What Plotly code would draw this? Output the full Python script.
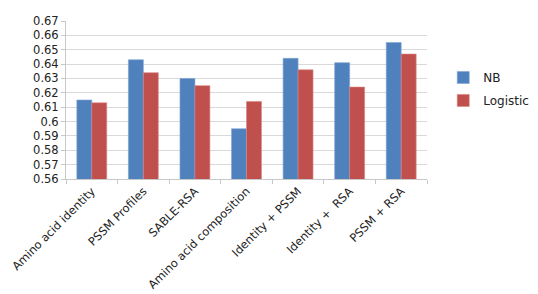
import plotly.graph_objects as go

categories = ["Amino acid identity", "PSSM Profiles", "SABLE-RSA", "Amino acid composition",
              "Identity + PSSM", "Identity +  RSA", "PSSM + RSA"]
nb_values = [0.615, 0.643, 0.630, 0.595, 0.644, 0.641, 0.655]
logistic_values = [0.613, 0.634, 0.625, 0.614, 0.636, 0.624, 0.647]
y_ticks = [0.56, 0.57, 0.58, 0.59, 0.60, 0.61, 0.62, 0.63, 0.64, 0.65, 0.66, 0.67]
y_tick_labels = ["0.56", "0.57", "0.58", "0.59", "0.6", "0.61", "0.62", "0.63", "0.64", "0.65", "0.66", "0.67"]

fig = go.Figure()
fig.add_trace(go.Bar(x=categories, y=nb_values, name="NB", legendgroup="nb",
                     marker=dict(color="#4F81BD", line=dict(color="#7fa3d3", width=0.6))))
fig.add_trace(go.Bar(x=categories, y=logistic_values, name="Logistic", legendgroup="lg",
                     marker=dict(color="#C0504D", line=dict(color="#d98583", width=0.6))))

font_family = "DejaVu Sans, Verdana, sans-serif"
fig.update_layout(
    width=538, height=294,
    margin=dict(l=58, r=79, t=13, b=123),
    paper_bgcolor="white", plot_bgcolor="white",
    barmode="group", bargap=0.42, bargroupgap=0,
    font=dict(family=font_family, size=11, color="#222222"),
    showlegend=True,
    legend=dict(x=1.045, y=0.57, xanchor="left", yanchor="middle",
                font=dict(size=12, color="#222222"), itemwidth=30, tracegroupgap=4,
                bgcolor="rgba(0,0,0,0)"),
    xaxis=dict(tickangle=-45, showgrid=False, showline=True, linecolor="#c8c8c8",
               ticks="outside", tickson="boundaries", ticklen=4, tickcolor="#c8c8c8",
               tickfont=dict(size=11.5, color="#222222"), automargin=False),
    yaxis=dict(range=[0.56, 0.67], tickvals=y_ticks, ticktext=y_tick_labels,
               showgrid=True, gridcolor="#d9d9d9", gridwidth=1, showline=True,
               linecolor="#c8c8c8", ticks="outside", ticklen=4, tickcolor="#c8c8c8",
               tickfont=dict(size=11.5, color="#222222"), zeroline=False, automargin=False),
)

fig.write_html("out.html")
